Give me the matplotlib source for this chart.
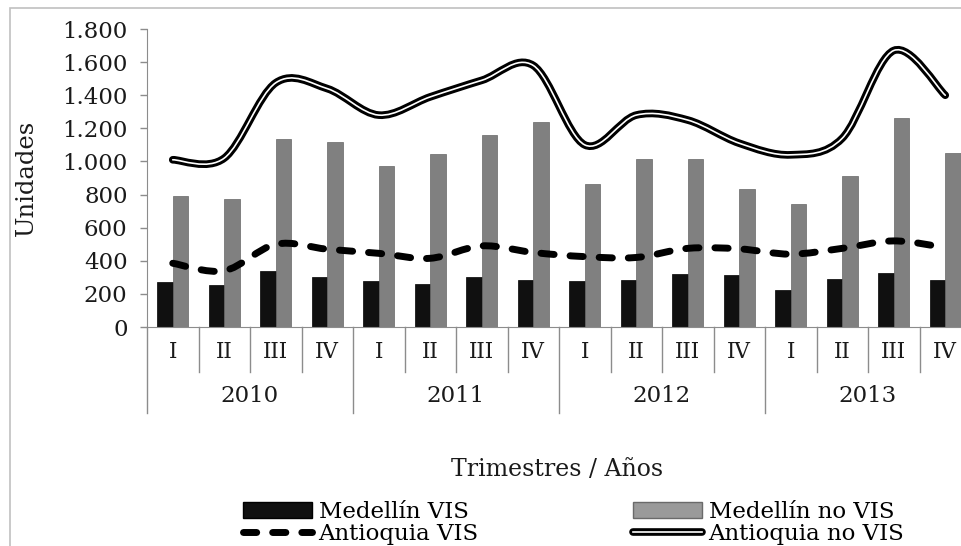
import numpy as np
import matplotlib
matplotlib.use('Agg')
import matplotlib.pyplot as plt
from matplotlib.path import Path
from matplotlib.patches import PathPatch, Patch, Rectangle
from matplotlib.lines import Line2D
from matplotlib.ticker import FuncFormatter

quarters = ['I', 'II', 'III', 'IV'] * 4
years = ['2010', '2011', '2012', '2013']
medellin_vis = [270, 255, 340, 300, 280, 262, 300, 285, 280, 285, 318, 315, 225, 292, 325, 285]
medellin_no_vis = [790, 775, 1135, 1118, 975, 1045, 1160, 1240, 865, 1012, 1012, 835, 740, 915, 1262, 1050]
antioquia_vis = [385, 340, 500, 470, 445, 415, 490, 450, 425, 420, 475, 472, 440, 475, 520, 480]
antioquia_no_vis = [1010, 1020, 1475, 1440, 1280, 1390, 1490, 1580, 1100, 1280, 1250, 1110, 1040, 1140, 1670, 1400]


def smooth_path(xs, ys):
    # excel style smoothed line: bezier segments through every point
    pts = np.column_stack([xs, ys]).astype(float)
    ext = np.vstack([pts[0], pts, pts[-1]])
    verts = [pts[0]]
    codes = [Path.MOVETO]
    for i in range(len(pts) - 1):
        p0, p1, p2, p3 = ext[i], ext[i + 1], ext[i + 2], ext[i + 3]
        verts += [p1 + (p2 - p0) / 6, p2 - (p3 - p1) / 6, p2]
        codes += [Path.CURVE4] * 3
    return Path(verts, codes)


plt.rcParams['font.family'] = ['DejaVu Serif']
W, H = 961, 546
fig = plt.figure(figsize=(W / 100, H / 100), dpi=100)
fig.patch.set_facecolor('white')
fig.patches.append(Rectangle((10 / W, -0.1), 1.1, 1.1 - 8 / H, transform=fig.transFigure,
                             fill=False, edgecolor='#c0c0c0', lw=1.2))

ax = fig.add_axes([147 / W, (H - 327) / H, 824 / W, 298 / H])
x = np.arange(len(quarters))
width = 0.3

ax.bar(x - width / 2, medellin_vis, width, color='#101010', edgecolor='#000000', lw=0.5, zorder=2)
ax.bar(x + width / 2, medellin_no_vis, width, color='#808080', edgecolor='#666666', lw=0.5, zorder=2)

dash = PathPatch(smooth_path(x, antioquia_vis), fill=False, edgecolor='black', lw=5,
                 linestyle=(0, (1.9, 2.3)), capstyle='round', zorder=4)
ax.add_patch(dash)
outer = PathPatch(smooth_path(x, antioquia_no_vis), fill=False, edgecolor='black', lw=5.5,
                  capstyle='round', zorder=5)
inner = PathPatch(smooth_path(x, antioquia_no_vis), fill=False, edgecolor='white', lw=1.2,
                  capstyle='round', zorder=6)
ax.add_patch(outer)
ax.add_patch(inner)

ax.set_xlim(-0.5, 15.5)
ax.set_ylim(0, 1800)
ax.set_yticks(range(0, 1801, 200))
ax.yaxis.set_major_formatter(FuncFormatter(lambda v, p: '{:,}'.format(int(v)).replace(',', '.')))
ax.tick_params(axis='y', direction='out', length=5, width=1, color='#8c8c8c', pad=9,
               labelsize=16.5, labelcolor='#1a1a1a')
ax.set_xticks([])
for s in ['top', 'right']:
    ax.spines[s].set_visible(False)
ax.spines['left'].set_color('#8c8c8c')
ax.spines['bottom'].set_color('#8c8c8c')

# two level category axis
trans = ax.get_xaxis_transform()
for b in np.arange(-0.5, 16, 1):
    low = -0.289 if (b + 0.5) % 4 == 0 else -0.151
    ax.plot([b, b], [0, low], transform=trans, color='#8c8c8c', lw=1, clip_on=False)
for i, q in enumerate(quarters):
    ax.text(i, -0.084, q, transform=trans, ha='center', va='center', fontsize=15.5, color='#1a1a1a')
for j, yr in enumerate(years):
    ax.text(4 * j + 1.5, -0.23, yr, transform=trans, ha='center', va='center', fontsize=16.5,
            color='#1a1a1a')

ax.set_ylabel('Unidades', fontsize=17.5, color='#1a1a1a')
ax.yaxis.set_label_coords((38 - 147) / 824, 0.5)
fig.text(557 / W, 1 - 470 / H, 'Trimestres / Años', ha='center', va='center', fontsize=17,
         color='#1a1a1a')

h_vis = Patch(facecolor='#101010', edgecolor='#000000')
h_novis = Patch(facecolor='#9a9a9a', edgecolor='#6a6a6a')
h_dash = Line2D([], [], color='black', lw=5, linestyle=(0, (1.9, 2.3)), dash_capstyle='round')
h_double = (Line2D([], [], color='black', lw=5.5, solid_capstyle='round'),
            Line2D([], [], color='white', lw=1.2))

leg_kw = dict(loc='upper left', frameon=False, fontsize=16.5, borderpad=0, borderaxespad=0,
              handlelength=3.0, handleheight=0.65, handletextpad=0.3, labelspacing=0.0)
fig.legend([h_vis, h_dash], ['Medellín VIS', 'Antioquia VIS'],
           bbox_to_anchor=(243 / W, 1 - 501 / H), **leg_kw)
fig.legend([h_novis, h_double], ['Medellín no VIS', 'Antioquia no VIS'],
           bbox_to_anchor=(633 / W, 1 - 501 / H), **leg_kw)

fig.savefig('out.png', dpi=100, facecolor='white')
